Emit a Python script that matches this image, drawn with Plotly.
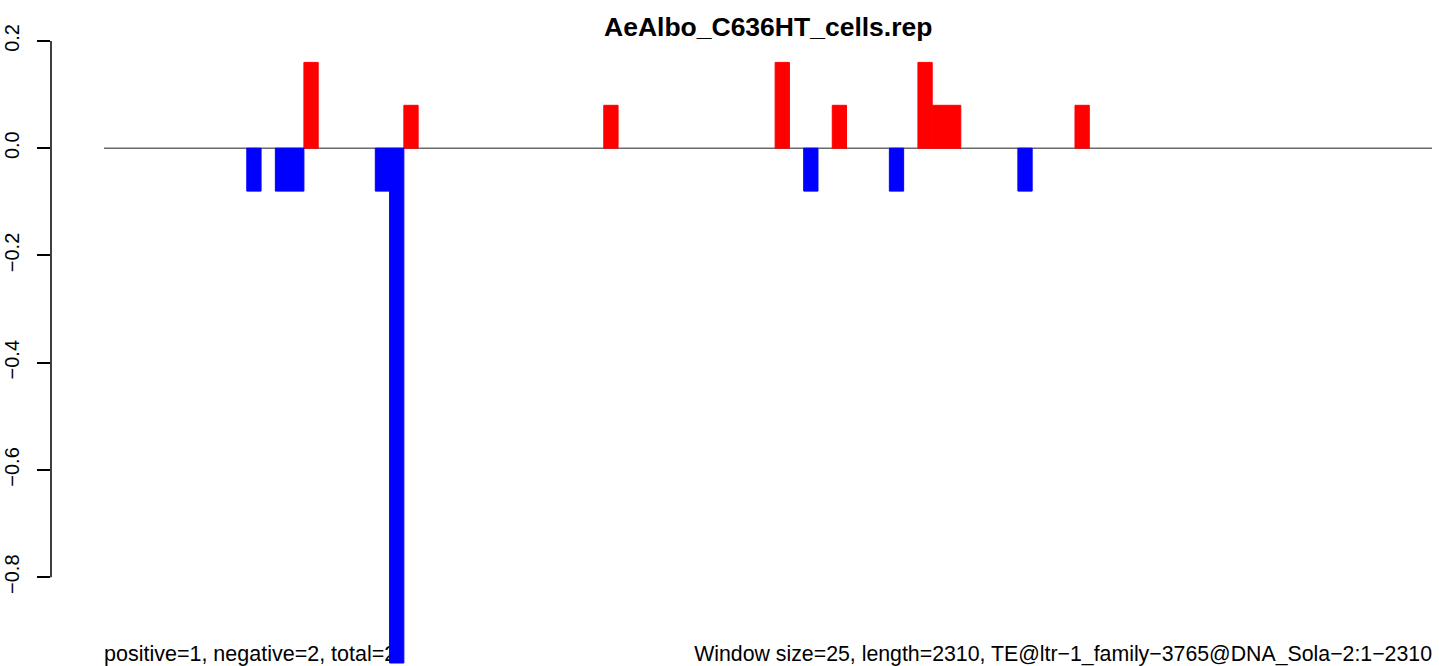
import plotly.graph_objects as go

# window bins (window size = 25 over length 2310 -> 93 bins, index 0..92)
pos_bins = [14, 21, 35, 47, 51, 57, 58, 59, 68]
pos_vals = [0.16, 0.08, 0.08, 0.16, 0.08, 0.16, 0.08, 0.08, 0.08]
neg_bins = [10, 12, 13, 19, 20, 49, 55, 64]
neg_vals = [-0.08, -0.08, -0.08, -0.08, -0.96, -0.08, -0.08, -0.08]
n_bins = 93

y_ticks = [0.2, 0.0, -0.2, -0.4, -0.6, -0.8]
y_ticktext = ["0.2", "0.0", "\u22120.2", "\u22120.4", "\u22120.6", "\u22120.8"]

title = "AeAlbo_C636HT_cells.rep"
left_note = "positive=1, negative=2, total=2"
right_note = "Window size=25, length=2310, TE@ltr\u22121_family\u22123765@DNA_Sola\u22122:1\u22122310"

FONT = "Liberation Sans, Arial, Helvetica, sans-serif"
x_range = [-4.211, n_bins - 0.5]
y_range = [-0.9656, 0.2484]

fig = go.Figure()

# base layer: zero line and the bottom notes (bars sit on top of them)
fig.add_trace(go.Scatter(x=[-0.5, n_bins - 0.5], y=[0, 0], mode="lines",
                         line=dict(color="#6b6b6b", width=1.5),
                         hoverinfo="skip", showlegend=False))
fig.add_trace(go.Scatter(x=[-0.5], y=[-0.947], mode="text", text=[left_note],
                         textposition="middle right",
                         textfont=dict(family=FONT, size=21.5, color="black"),
                         cliponaxis=False, showlegend=False))
fig.add_trace(go.Scatter(x=[n_bins - 0.5], y=[-0.947], mode="text", text=[right_note],
                         textposition="middle left",
                         textfont=dict(family=FONT, size=21.3, color="black"),
                         cliponaxis=False, showlegend=False))

# bars on an overlaid pair of axes so they are drawn above the notes
fig.add_trace(go.Bar(x=pos_bins, y=pos_vals, width=1,
                     marker=dict(color="#ff0000", line=dict(color="#ff0000", width=1)),
                     xaxis="x2", yaxis="y2", showlegend=False))
fig.add_trace(go.Bar(x=neg_bins, y=neg_vals, width=1,
                     marker=dict(color="#0000ff", line=dict(color="#0000ff", width=1)),
                     xaxis="x2", yaxis="y2", showlegend=False))

# y axis line only spans the tick range, like R's axis()
fig.add_shape(type="line", xref="paper", yref="y", x0=0, x1=0, y0=-0.8, y1=0.2,
              line=dict(color="black", width=1.5))

fig.add_annotation(text="<b>%s</b>" % title, xref="x", yref="paper", x=46, y=0.982,
                   showarrow=False, font=dict(family=FONT, size=26.5, color="black"),
                   xanchor="center", yanchor="middle")

fig.update_layout(
    width=1439, height=666,
    margin=dict(l=51, r=7, t=15, b=0),
    paper_bgcolor="white", plot_bgcolor="white",
    barmode="overlay",
    font=dict(family=FONT, color="black"),
    xaxis=dict(range=x_range, visible=False, showgrid=False, zeroline=False),
    yaxis=dict(range=y_range, showgrid=False, zeroline=False, showline=False,
               tickvals=y_ticks, ticktext=y_ticktext, ticks="outside", ticklen=13,
               tickwidth=1.5, tickcolor="black", tickangle=-90, ticklabelstandoff=10,
               tickfont=dict(family=FONT, size=20, color="black")),
    xaxis2=dict(range=x_range, overlaying="x", visible=False, showgrid=False, zeroline=False),
    yaxis2=dict(range=y_range, overlaying="y", visible=False, showgrid=False, zeroline=False),
)

# drop the page's default body margin so the figure sits at the window's corner
fig.write_html("out.html", config={"displayModeBar": False},
               post_script="document.body.style.margin='0';")
